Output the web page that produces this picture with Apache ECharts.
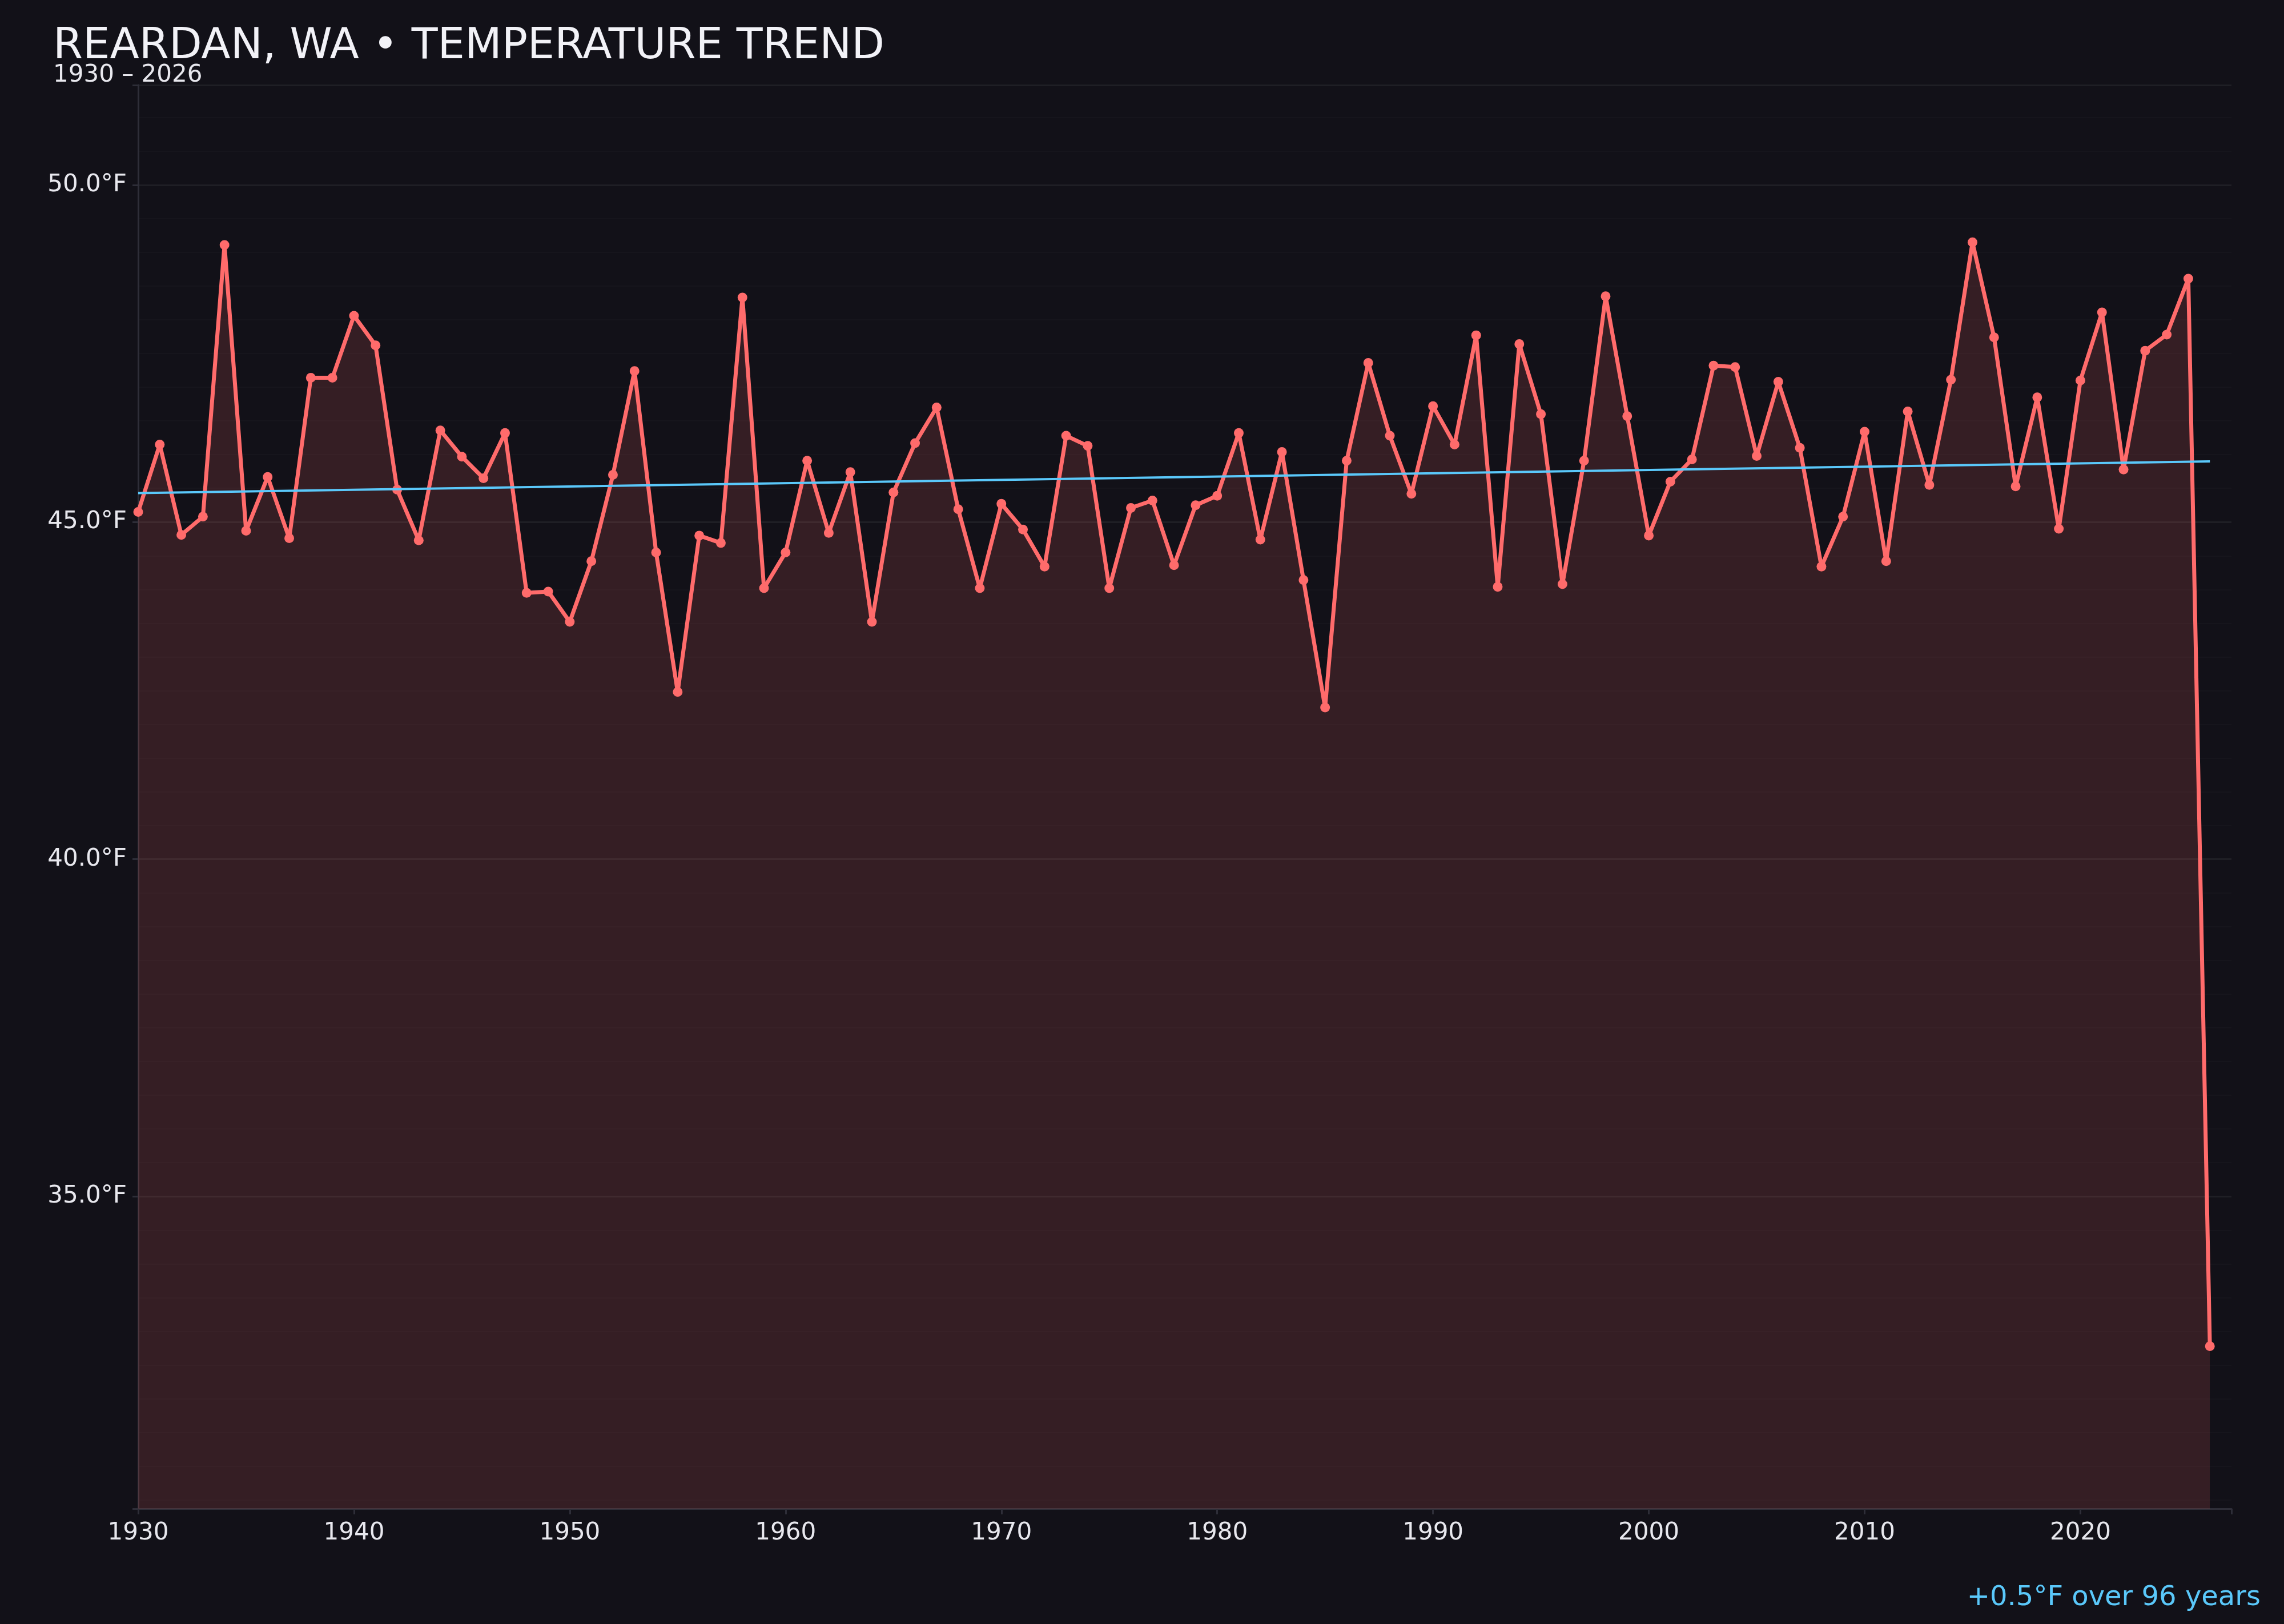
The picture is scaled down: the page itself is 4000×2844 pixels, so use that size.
<!DOCTYPE html>
<html>
<head>
<meta charset="utf-8">
<script src="https://cdn.jsdelivr.net/npm/echarts@6/dist/echarts.min.js"></script>
<style>
html,body{margin:0;padding:0;background:#121118;}
#chart{width:4000px;height:2844px;}
</style>
</head>
<body>
<div id="chart"></div>
<script>
const years = [1930,1931,1932,1933,1934,1935,1936,1937,1938,1939,
1940,1941,1942,1943,1944,1945,1946,1947,1948,1949,
1950,1951,1952,1953,1954,1955,1956,1957,1958,1959,
1960,1961,1962,1963,1964,1965,1966,1967,1968,1969,
1970,1971,1972,1973,1974,1975,1976,1977,1978,1979,
1980,1981,1982,1983,1984,1985,1986,1987,1988,1989,
1990,1991,1992,1993,1994,1995,1996,1997,1998,1999,
2000,2001,2002,2003,2004,2005,2006,2007,2008,2009,
2010,2011,2012,2013,2014,2015,2016,2017,2018,2019,
2020,2021,2022,2023,2024,2025,2026];

const temps = [45.15,46.15,44.81,45.08,49.11,44.87,45.67,44.76,47.14,47.14,
48.06,47.62,45.48,44.73,46.36,45.97,45.65,46.32,43.95,43.97,
43.52,44.42,45.70,47.24,44.55,42.48,44.80,44.69,48.33,44.02,
44.55,45.91,44.84,45.74,43.52,45.44,46.17,46.70,45.19,44.02,
45.27,44.89,44.34,46.28,46.13,44.02,45.21,45.32,44.36,45.25,
45.39,46.32,44.74,46.04,44.14,42.25,45.91,47.36,46.28,45.42,
46.72,46.15,47.77,44.04,47.64,46.60,44.08,45.91,48.35,46.57,
44.80,45.60,45.93,47.32,47.30,45.98,47.08,46.10,44.34,45.08,
46.34,44.42,46.64,45.55,47.11,49.15,47.74,45.53,46.85,44.90,
47.10,48.11,45.78,47.54,47.78,48.61,32.78];

const trendYears = [1930, 2026];
const trendValues = [45.43, 45.90];

const titleText = 'REARDAN, WA \u2022 TEMPERATURE TREND';
const subtitleText = '1930 \u2013 2026';
const footerText = '+0.5\u00B0F over 96 years';

const yMin = 30.37, yMax = 51.48;
const xMin = 1930, xMax = 2027;

const FONT = 'DejaVu Sans';
const chart = echarts.init(document.getElementById('chart'), null, {renderer: 'canvas'});

chart.setOption({
  backgroundColor: '#121118',
  animation: false,
  textStyle: {fontFamily: FONT},
  title: [
    {text: titleText, left: 88, top: 40, textStyle: {color: '#f2f2f7', fontSize: 75, fontWeight: 'normal', fontFamily: FONT}},
    {text: subtitleText, left: 88, top: 106, textStyle: {color: '#e8e8ee', fontSize: 42, fontWeight: 'normal', fontFamily: FONT}},
    {text: footerText, right: 36, top: 2770, textStyle: {color: '#5ac8fa', fontSize: 48, fontWeight: 'normal', fontFamily: FONT}}
  ],
  grid: {left: 242, right: 92, top: 149, bottom: 202, containLabel: false},
  xAxis: {
    type: 'value', min: xMin, max: xMax, interval: 10,
    axisLine: {show: true, lineStyle: {color: '#2e2e38', width: 3}},
    axisTick: {show: true, length: 10, lineStyle: {color: '#2e2e38', width: 3}},
    splitLine: {show: false},
    axisLabel: {color: '#e8e8ee', fontSize: 42, margin: 22, fontFamily: FONT,
      formatter: v => (Math.round(v) % 10 === 0 ? String(Math.round(v)) : '')}
  },
  yAxis: {
    type: 'value', min: yMin, max: yMax, splitNumber: 5,
    axisLine: {show: true, lineStyle: {color: '#2e2e38', width: 3}},
    axisTick: {show: true, length: 10, lineStyle: {color: '#2e2e38', width: 3}},
    splitLine: {show: true, lineStyle: {color: 'rgba(255,255,255,0.06)', width: 3}},
    minorTick: {show: false, splitNumber: 10},
    minorSplitLine: {show: true, lineStyle: {color: 'rgba(255,255,255,0.018)', width: 2}},
    axisLabel: {color: '#e8e8ee', fontSize: 42, margin: 20, fontFamily: FONT,
      formatter: v => (Math.abs(v / 5 - Math.round(v / 5)) < 1e-6 ? v.toFixed(1) + '\u00B0F' : '')}
  },
  series: [
    {
      type: 'line',
      data: years.map((y, i) => [y, temps[i]]),
      symbol: 'circle', symbolSize: 17,
      lineStyle: {color: '#ff6b6b', width: 7},
      itemStyle: {color: '#ff6b6b'},
      areaStyle: {color: 'rgba(255,107,107,0.15)', opacity: 1, origin: 'start'},
      z: 3
    },
    {
      type: 'line',
      data: trendYears.map((y, i) => [y, trendValues[i]]),
      symbol: 'none',
      lineStyle: {color: '#5ac8fa', width: 4},
      z: 4
    }
  ]
});
</script>
</body>
</html>
